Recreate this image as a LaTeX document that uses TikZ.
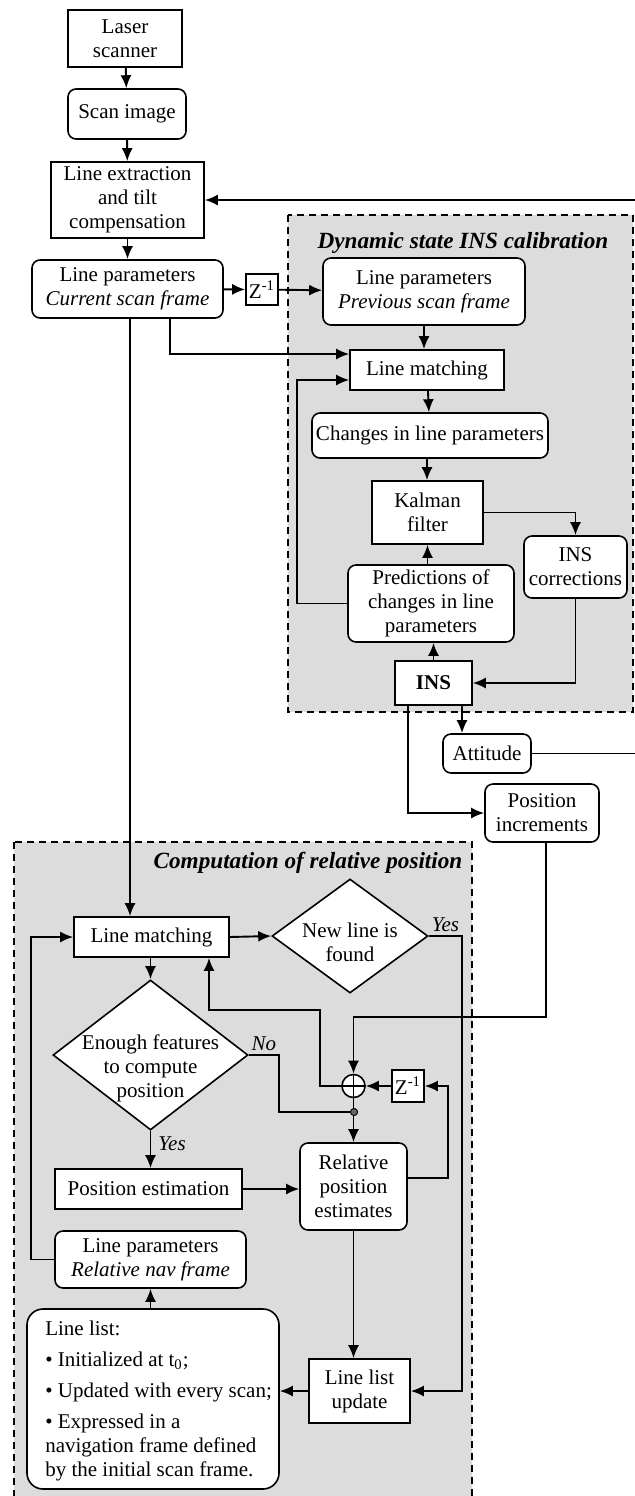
\documentclass[tikz,border=0pt]{standalone}
\usepackage{fontspec}
\setmainfont{Liberation Serif}
\usepackage{tikz}
\usetikzlibrary{arrows.meta}
\usetikzlibrary{shapes.geometric}
\definecolor{zonegray}{RGB}{220,220,220}
\tikzset{>={Latex[length=6.5pt,width=5.5pt]}}
\tikzstyle{blk} = [draw, fill=white, rectangle, line width=0.8pt, inner sep=1pt, align=center]
\tikzstyle{rblk} = [blk, rounded corners=4pt]
\tikzstyle{dec} = [draw, fill=white, diamond, line width=0.8pt, inner sep=0pt]
\tikzstyle{arr} = [->, line width=0.95pt]
\tikzstyle{lnk} = [-, line width=0.95pt]
\tikzstyle{zonebox} = [draw, fill=zonegray, line width=1pt, dash pattern=on 3.5pt off 2.5pt]
\tikzstyle{lbl} = [font=\fontsize{10.5}{12}\selectfont\itshape, inner sep=1.5pt]
\tikzstyle{ttl} = [font=\fontsize{11.6}{14}\selectfont\bfseries\itshape]

\begin{document}
\begin{tikzpicture}[x=0.5pt, y=-0.5pt, font=\fontsize{10.5}{12}\selectfont]
\useasboundingbox (0,0) rectangle (634,1496);
\draw [zonebox] (288,215) rectangle (633,712);
\draw [zonebox] (14,842) rectangle (472,1510);
\node [ttl] (calibttl) at (463,243) {Dynamic state INS calibration};
\node [ttl] (relttl) at (308,863) {Computation of relative position};

\node [blk, minimum width=57pt, minimum height=28.5pt] (laser) at (125,38.5) {Laser\\scanner};
\node [rblk, minimum width=59pt, minimum height=25pt] (scan) at (127,114) {Scan image};
\node [blk, minimum width=76.5pt, minimum height=38pt] (extract) at (127.5,200) {Line extraction\\and tilt\\compensation};
\node [rblk, minimum width=95.5pt, minimum height=29pt] (lpcur) at (127.5,289) {Line parameters\\\textit{Current scan frame}};
\node [blk, minimum width=16pt, minimum height=15.5pt, inner sep=0pt] (zone) at (262,289.5) {Z\textsuperscript{-1}};
\node [rblk, minimum width=101pt, minimum height=33.5pt] (lpprev) at (424,291.5) {Line parameters\\\textit{Previous scan frame}};
\node [blk, minimum width=77pt, minimum height=20pt] (match1) at (427,370) {Line matching};
\node [rblk, minimum width=118pt, minimum height=22.5pt] (changes) at (430,435.5) {Changes in line parameters};
\node [blk, minimum width=55.5pt, minimum height=31.5pt] (kalman) at (427.5,512.5) {Kalman\\filter};
\node [rblk, minimum width=51.5pt, minimum height=31pt] (inscorr) at (575.5,567) {INS\\corrections};
\node [rblk, minimum width=83pt, minimum height=38.5pt] (pred) at (431,603.5) {Predictions of\\changes in line\\parameters};
\node [blk, minimum width=38.5pt, minimum height=22pt] (ins) at (433.5,683) {\textbf{INS}};
\node [rblk, minimum width=44pt, minimum height=19.5pt] (att) at (487,753.5) {Attitude};
\node [rblk, minimum width=57pt, minimum height=29pt] (posinc) at (542,813) {Position\\increments};

\node [blk, minimum width=77.5pt, minimum height=20pt] (match2) at (151.5,937) {Line matching};
\node [dec, minimum width=78pt, minimum height=57pt, label={[align=center, yshift=-3pt]center:New line is\\found}] (newline) at (350,936) {};
\node [dec, minimum width=97.5pt, minimum height=75pt, label={[align=center, yshift=-6.5pt]center:Enough features\\to compute\\position}] (enough) at (150.5,1055) {};
\node [draw, fill=white, circle, line width=0.8pt, inner sep=0pt, minimum size=11.5pt] (adder) at (353.5,1086) {};
\draw [line width=0.8pt] (adder.north) -- (adder.south) (adder.west) -- (adder.east);
\node [blk, minimum width=16pt, minimum height=16pt, inner sep=0pt] (ztwo) at (408,1086) {Z\textsuperscript{-1}};
\node [draw, fill=black!60, circle, inner sep=0pt, minimum size=3.5pt] (jn) at (354,1112) {};
\node [rblk, minimum width=53.5pt, minimum height=43.5pt] (rpe) at (353.5,1186.5) {Relative\\position\\estimates};
\node [blk, minimum width=93.5pt, minimum height=20pt] (posest) at (148.5,1189) {Position estimation};
\node [rblk, minimum width=95.5pt, minimum height=28.5pt] (lprel) at (150.5,1259.5) {Line parameters\\\textit{Relative nav frame}};
\node [rblk, rounded corners=8pt, minimum width=126pt, minimum height=90pt,
  label={[name=listtext, anchor=west, align=left, xshift=6pt, yshift=-1pt]west:{Line list:\\[3.5pt]\textbullet{} Initialized at t\textsubscript{0};\\[3.5pt]\textbullet{} Updated with every scan;\\[3.5pt]\textbullet{} Expressed in a\\navigation frame defined\\by the initial scan frame.}}] (linelist) at (153,1399) {};
\node [blk, minimum width=50.5pt, minimum height=32pt] (llupdate) at (359.5,1391) {Line list\\update};

\coordinate (rim) at (645,200);
\coordinate (pinc) at (546,1017);
\coordinate (yesturn) at (462,936);
\coordinate (noturn) at (279,1055);
\coordinate (fbk) at (320,1010);
\coordinate (zloop) at (448,1086);

\draw [arr] (laser) -- (scan);
\draw [arr] (scan) -- (extract);
\draw [arr] (extract) -- (lpcur);
\draw [arr] (lpcur) -- (zone);
\draw [arr] (zone) -- (lpprev);
\draw [arr] ([xshift=21.25pt]lpcur.south) |- ([yshift=8pt]match1.west);
\draw [arr] (lpprev.south) -- (lpprev.south |- match1.north);
\draw [arr] (pred.west) -- ++(-25pt,0) |- ([yshift=-5pt]match1.west);
\draw [arr] (match1) -- (changes);
\draw [arr] (match1.south |- changes.south) -- (match1.south |- kalman.north);
\draw [arr] (kalman.east) -| (inscorr.north);
\draw [arr] (kalman.south |- pred.north) -- (kalman.south);
\draw [arr] (ins.north) -- (ins.north |- pred.south);
\draw [arr] (inscorr.south) |- (ins.east);
\draw [arr] ([xshift=14.25pt]ins.south) -- ([xshift=14.25pt]ins.south |- att.north);
\draw [arr] ([xshift=-12.75pt]ins.south) |- (posinc.west);
\draw [arr] (att.east) -| (rim) -- (extract.east);

\draw [arr] ([xshift=1.25pt]lpcur.south) -- ([xshift=1.25pt]lpcur.south |- match2.north);
\draw [arr] ([xshift=2pt]posinc.south) -- (pinc) -| (adder.north);
\draw [arr] (match2.east) -- (newline.west);
\draw [arr] (newline.east) -- node [lbl, above] {Yes} (yesturn) |- (llupdate.east);
\draw [arr] (match2.south -| enough.north) -- (enough.north);
\draw [lnk] (enough.east) -- node [lbl, above] {No} (noturn) |- (jn);
\draw [arr] (enough.south) -- node [lbl, right, pos=0.35, xshift=2pt] {Yes} (enough.south |- posest.north);
\draw [arr] (adder.west) -| (fbk) -| ([xshift=28.75pt]match2.south);
\draw [arr] (ztwo.west) -- (adder.east);
\draw [arr] ([yshift=4.25pt]rpe.east) -| (zloop) -- (ztwo.east);
\draw [arr] (adder.south) -- (rpe.north);
\node [draw, fill=black!60, circle, inner sep=0pt, minimum size=3.5pt] at (jn) {};
\draw [arr] (posest.east) -- (posest.east -| rpe.west);
\draw [arr] (lprel.west) -- ++(-11.5pt,0) |- (match2.west);
\draw [arr] (lprel.south |- linelist.north) -- (lprel.south);
\draw [arr] (rpe.south) -- (rpe.south |- llupdate.north);
\draw [arr] (llupdate.west) -- (llupdate.west -| linelist.east);
\end{tikzpicture}
\end{document}
